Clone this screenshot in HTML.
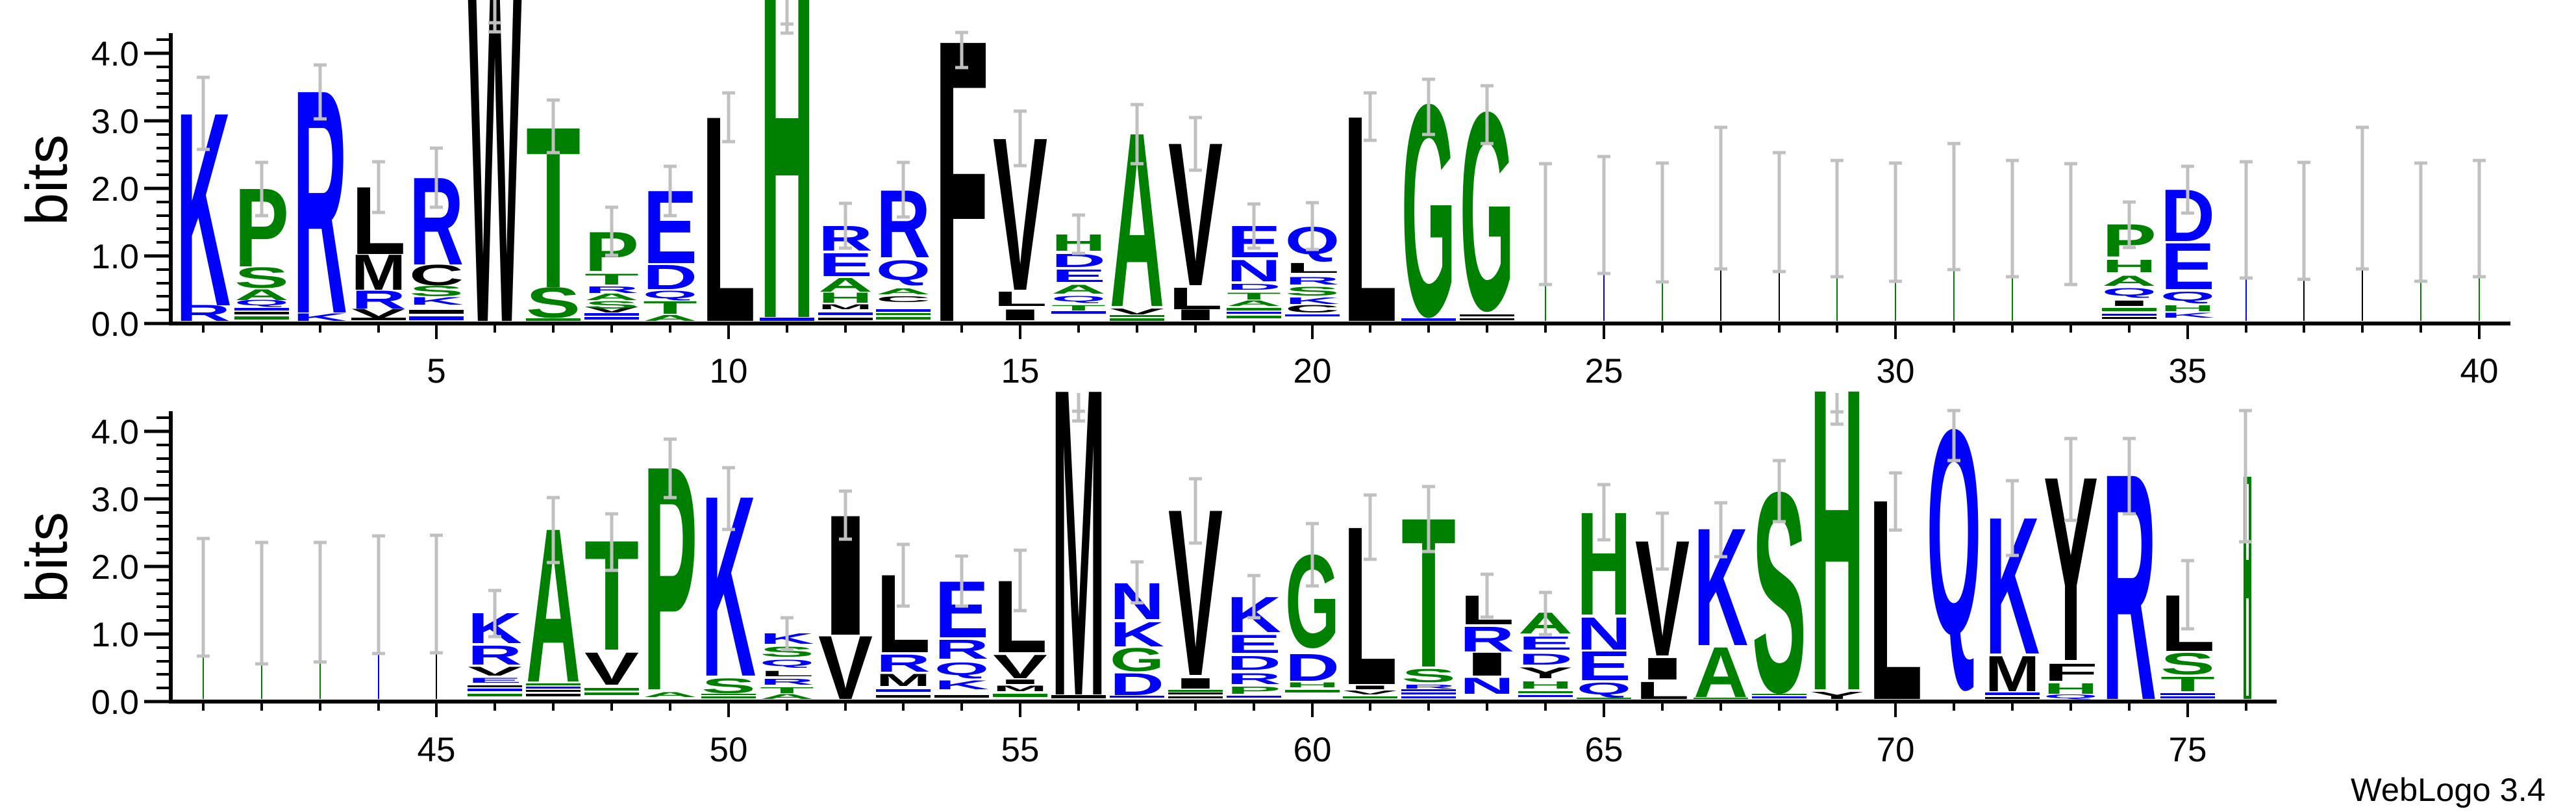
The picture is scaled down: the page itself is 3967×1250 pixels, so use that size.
<!DOCTYPE html>
<html><head><meta charset="utf-8"><style>
html,body{margin:0;padding:0;background:#fff}
svg{display:block}
text{font-family:"Liberation Sans",sans-serif}
.L text{font-weight:bold}
.b{fill:#0000ff}.g{fill:#008000}.k{fill:#000}
</style></head><body>
<svg width="3967" height="1250" viewBox="0 0 3967 1250" xmlns="http://www.w3.org/2000/svg">
<rect width="3967" height="1250" fill="#fff"/>
<g class="L">
<!-- TOP ROW -->
<text class="b" x="271" y="494" font-size="35" textLength="84" lengthAdjust="spacingAndGlyphs">R</text>
<text class="b" x="271" y="470" font-size="427" textLength="84" lengthAdjust="spacingAndGlyphs">K</text>
<rect class="g" x="361" y="487" width="84" height="5"/><rect class="k" x="361" y="480" width="84" height="4"/><rect class="b" x="361" y="474" width="84" height="4"/>
<text class="b" x="361" y="470" font-size="12" textLength="84" lengthAdjust="spacingAndGlyphs">Q</text>
<text class="g" x="361" y="462" font-size="24" textLength="84" lengthAdjust="spacingAndGlyphs">A</text>
<text class="g" x="361" y="443" font-size="45" textLength="84" lengthAdjust="spacingAndGlyphs">S</text>
<text class="g" x="361" y="410" font-size="173" textLength="84" lengthAdjust="spacingAndGlyphs">P</text>
<text class="b" x="451" y="494" font-size="17" textLength="84" lengthAdjust="spacingAndGlyphs">K</text>
<text class="b" x="451" y="481" font-size="493" textLength="84" lengthAdjust="spacingAndGlyphs">R</text>
<rect class="k" x="541" y="489" width="84" height="4"/>
<text class="k" x="541" y="489" font-size="19" textLength="84" lengthAdjust="spacingAndGlyphs">V</text>
<text class="b" x="541" y="475" font-size="40" textLength="84" lengthAdjust="spacingAndGlyphs">R</text>
<text class="k" x="541" y="446" font-size="78" textLength="84" lengthAdjust="spacingAndGlyphs">M</text>
<text class="k" x="541" y="391" font-size="149" textLength="84" lengthAdjust="spacingAndGlyphs">L</text>
<rect class="b" x="630" y="487" width="84" height="6"/><rect class="k" x="630" y="477" width="84" height="6"/>
<text class="b" x="630" y="469" font-size="17" textLength="84" lengthAdjust="spacingAndGlyphs">K</text>
<text class="g" x="630" y="456" font-size="23" textLength="84" lengthAdjust="spacingAndGlyphs">S</text>
<text class="k" x="630" y="439" font-size="45" textLength="84" lengthAdjust="spacingAndGlyphs">C</text>
<text class="b" x="630" y="407" font-size="193" textLength="84" lengthAdjust="spacingAndGlyphs">R</text>
<text class="k" x="720" y="494" font-size="747" textLength="84" lengthAdjust="spacingAndGlyphs">W</text>
<rect class="g" x="810" y="490" width="84" height="4"/>
<text class="g" x="810" y="489" font-size="67" textLength="84" lengthAdjust="spacingAndGlyphs">S</text>
<text class="g" x="810" y="442" font-size="355" textLength="84" lengthAdjust="spacingAndGlyphs">T</text>
<rect class="b" x="900" y="488" width="84" height="4"/><rect class="b" x="900" y="482" width="84" height="4"/>
<text class="k" x="900" y="481" font-size="13" textLength="84" lengthAdjust="spacingAndGlyphs">V</text>
<text class="g" x="900" y="475" font-size="17" textLength="84" lengthAdjust="spacingAndGlyphs">S</text>
<text class="g" x="900" y="462" font-size="15" textLength="84" lengthAdjust="spacingAndGlyphs">A</text>
<text class="b" x="900" y="451" font-size="15" textLength="84" lengthAdjust="spacingAndGlyphs">R</text>
<text class="g" x="900" y="438" font-size="24" textLength="84" lengthAdjust="spacingAndGlyphs">T</text>
<text class="g" x="900" y="417" font-size="86" textLength="84" lengthAdjust="spacingAndGlyphs">P</text>
<text class="g" x="990" y="494" font-size="13" textLength="84" lengthAdjust="spacingAndGlyphs">A</text>
<text class="g" x="990" y="483" font-size="28" textLength="84" lengthAdjust="spacingAndGlyphs">T</text>
<text class="b" x="990" y="459" font-size="17" textLength="84" lengthAdjust="spacingAndGlyphs">Q</text>
<text class="b" x="990" y="445" font-size="54" textLength="84" lengthAdjust="spacingAndGlyphs">D</text>
<text class="b" x="990" y="405" font-size="161" textLength="84" lengthAdjust="spacingAndGlyphs">E</text>
<text class="k" x="1080" y="494" font-size="454" textLength="84" lengthAdjust="spacingAndGlyphs">L</text>
<rect class="b" x="1170" y="489" width="84" height="5"/>
<text class="g" x="1170" y="488" font-size="739" textLength="84" lengthAdjust="spacingAndGlyphs">H</text>
<rect class="k" x="1260" y="489" width="84" height="4"/><rect class="b" x="1260" y="481" width="84" height="4"/>
<text class="k" x="1260" y="476" font-size="11" textLength="84" lengthAdjust="spacingAndGlyphs">M</text>
<text class="g" x="1260" y="466" font-size="22" textLength="84" lengthAdjust="spacingAndGlyphs">H</text>
<text class="g" x="1260" y="449" font-size="31" textLength="84" lengthAdjust="spacingAndGlyphs">A</text>
<text class="b" x="1260" y="425" font-size="51" textLength="84" lengthAdjust="spacingAndGlyphs">E</text>
<text class="b" x="1260" y="386" font-size="55" textLength="84" lengthAdjust="spacingAndGlyphs">R</text>
<rect class="g" x="1349" y="488" width="84" height="4"/><rect class="b" x="1349" y="476" width="84" height="4"/><rect class="g" x="1349" y="482" width="84" height="3"/>
<text class="k" x="1349" y="465" font-size="13" textLength="84" lengthAdjust="spacingAndGlyphs">C</text>
<text class="g" x="1349" y="453" font-size="13" textLength="84" lengthAdjust="spacingAndGlyphs">A</text>
<text class="b" x="1349" y="431" font-size="44" textLength="84" lengthAdjust="spacingAndGlyphs">Q</text>
<text class="b" x="1349" y="396" font-size="149" textLength="84" lengthAdjust="spacingAndGlyphs">R</text>
<text class="k" x="1439" y="494" font-size="622" textLength="84" lengthAdjust="spacingAndGlyphs">F</text>
<text class="k" x="1529" y="493" font-size="24" textLength="84" lengthAdjust="spacingAndGlyphs">I</text>
<text class="k" x="1529" y="471" font-size="32" textLength="84" lengthAdjust="spacingAndGlyphs">L</text>
<text class="k" x="1529" y="446" font-size="337" textLength="84" lengthAdjust="spacingAndGlyphs">V</text>
<rect class="b" x="1619" y="479" width="84" height="4"/>
<text class="g" x="1619" y="478" font-size="12" textLength="84" lengthAdjust="spacingAndGlyphs">T</text>
<text class="b" x="1619" y="464" font-size="12" textLength="84" lengthAdjust="spacingAndGlyphs">Q</text>
<text class="g" x="1619" y="452" font-size="19" textLength="84" lengthAdjust="spacingAndGlyphs">A</text>
<text class="b" x="1619" y="434" font-size="28" textLength="84" lengthAdjust="spacingAndGlyphs">E</text>
<text class="b" x="1619" y="411" font-size="29" textLength="84" lengthAdjust="spacingAndGlyphs">D</text>
<text class="g" x="1619" y="386" font-size="36" textLength="84" lengthAdjust="spacingAndGlyphs">H</text>
<rect class="g" x="1709" y="490" width="84" height="4"/><rect class="g" x="1709" y="485" width="84" height="3"/>
<text class="k" x="1709" y="484" font-size="13" textLength="84" lengthAdjust="spacingAndGlyphs">V</text>
<text class="g" x="1709" y="471" font-size="384" textLength="84" lengthAdjust="spacingAndGlyphs">A</text>
<text class="k" x="1799" y="493" font-size="24" textLength="84" lengthAdjust="spacingAndGlyphs">I</text>
<text class="k" x="1799" y="476" font-size="48" textLength="84" lengthAdjust="spacingAndGlyphs">L</text>
<text class="k" x="1799" y="439" font-size="316" textLength="84" lengthAdjust="spacingAndGlyphs">V</text>
<rect class="g" x="1889" y="486" width="84" height="4"/><rect class="b" x="1889" y="480" width="84" height="3"/><rect class="g" x="1889" y="474" width="84" height="4"/>
<text class="g" x="1889" y="471" font-size="12" textLength="84" lengthAdjust="spacingAndGlyphs">A</text>
<text class="g" x="1889" y="461" font-size="15" textLength="84" lengthAdjust="spacingAndGlyphs">T</text>
<text class="b" x="1889" y="446" font-size="13" textLength="84" lengthAdjust="spacingAndGlyphs">D</text>
<text class="b" x="1889" y="433" font-size="47" textLength="84" lengthAdjust="spacingAndGlyphs">N</text>
<text class="b" x="1889" y="396" font-size="70" textLength="84" lengthAdjust="spacingAndGlyphs">E</text>
<rect class="b" x="1979" y="484" width="84" height="3"/>
<text class="k" x="1979" y="481" font-size="17" textLength="84" lengthAdjust="spacingAndGlyphs">C</text>
<text class="b" x="1979" y="468" font-size="15" textLength="84" lengthAdjust="spacingAndGlyphs">K</text>
<text class="g" x="1979" y="455" font-size="19" textLength="84" lengthAdjust="spacingAndGlyphs">S</text>
<text class="b" x="1979" y="438" font-size="17" textLength="84" lengthAdjust="spacingAndGlyphs">R</text>
<text class="k" x="1979" y="420" font-size="22" textLength="84" lengthAdjust="spacingAndGlyphs">L</text>
<text class="b" x="1979" y="391" font-size="60" textLength="84" lengthAdjust="spacingAndGlyphs">Q</text>
<text class="k" x="2068" y="494" font-size="455" textLength="84" lengthAdjust="spacingAndGlyphs">L</text>
<rect class="b" x="2158" y="490" width="84" height="4"/>
<text class="g" x="2158" y="485" font-size="466" textLength="84" lengthAdjust="spacingAndGlyphs">G</text>
<rect class="k" x="2248" y="490" width="84" height="3"/><rect class="k" x="2248" y="484" width="84" height="3"/>
<text class="g" x="2248" y="476" font-size="436" textLength="84" lengthAdjust="spacingAndGlyphs">G</text>
<rect class="k" x="3237" y="488" width="84" height="3"/><rect class="b" x="3237" y="483" width="84" height="3"/><rect class="g" x="3237" y="474" width="84" height="5"/>
<text class="k" x="3237" y="471" font-size="12" textLength="84" lengthAdjust="spacingAndGlyphs">I</text>
<text class="b" x="3237" y="455" font-size="17" textLength="84" lengthAdjust="spacingAndGlyphs">Q</text>
<text class="g" x="3237" y="440" font-size="22" textLength="84" lengthAdjust="spacingAndGlyphs">A</text>
<text class="g" x="3237" y="419" font-size="28" textLength="84" lengthAdjust="spacingAndGlyphs">H</text>
<text class="g" x="3237" y="395" font-size="71" textLength="84" lengthAdjust="spacingAndGlyphs">P</text>
<text class="b" x="3327" y="489" font-size="11" textLength="84" lengthAdjust="spacingAndGlyphs">K</text>
<text class="g" x="3327" y="479" font-size="13" textLength="84" lengthAdjust="spacingAndGlyphs">H</text>
<text class="b" x="3327" y="463" font-size="20" textLength="84" lengthAdjust="spacingAndGlyphs">Q</text>
<text class="b" x="3327" y="445" font-size="102" textLength="84" lengthAdjust="spacingAndGlyphs">E</text>
<text class="b" x="3327" y="371" font-size="114" textLength="84" lengthAdjust="spacingAndGlyphs">D</text>

<!-- BOTTOM ROW -->
<rect class="g" x="720" y="1068" width="84" height="4"/><rect class="b" x="720" y="1060" width="84" height="4"/><rect class="k" x="720" y="1055" width="84" height="3"/>
<text class="b" x="720" y="1051" font-size="11" textLength="84" lengthAdjust="spacingAndGlyphs">E</text>
<text class="k" x="720" y="1040" font-size="19" textLength="84" lengthAdjust="spacingAndGlyphs">V</text>
<text class="b" x="720" y="1023" font-size="42" textLength="84" lengthAdjust="spacingAndGlyphs">R</text>
<text class="b" x="720" y="990" font-size="67" textLength="84" lengthAdjust="spacingAndGlyphs">K</text>
<rect class="k" x="810" y="1068" width="84" height="4"/><rect class="k" x="810" y="1062" width="84" height="3"/><rect class="b" x="810" y="1057" width="84" height="3"/><rect class="g" x="810" y="1052" width="84" height="3"/>
<text class="g" x="810" y="1049" font-size="339" textLength="84" lengthAdjust="spacingAndGlyphs">A</text>
<rect class="g" x="900" y="1066" width="84" height="4"/><rect class="g" x="900" y="1059" width="84" height="4"/>
<text class="k" x="900" y="1054" font-size="71" textLength="84" lengthAdjust="spacingAndGlyphs">V</text>
<text class="g" x="900" y="1000" font-size="242" textLength="84" lengthAdjust="spacingAndGlyphs">T</text>
<text class="g" x="990" y="1073" font-size="11" textLength="84" lengthAdjust="spacingAndGlyphs">A</text>
<text class="g" x="990" y="1061" font-size="494" textLength="84" lengthAdjust="spacingAndGlyphs">P</text>
<rect class="g" x="1080" y="1072" width="84" height="3"/><rect class="g" x="1080" y="1068" width="84" height="2"/>
<text class="g" x="1080" y="1067" font-size="32" textLength="84" lengthAdjust="spacingAndGlyphs">S</text>
<text class="b" x="1080" y="1040" font-size="398" textLength="84" lengthAdjust="spacingAndGlyphs">K</text>
<text class="g" x="1170" y="1076" font-size="11" textLength="84" lengthAdjust="spacingAndGlyphs">A</text>
<text class="g" x="1170" y="1067" font-size="13" textLength="84" lengthAdjust="spacingAndGlyphs">T</text>
<text class="b" x="1170" y="1054" font-size="13" textLength="84" lengthAdjust="spacingAndGlyphs">R</text>
<text class="k" x="1170" y="1041" font-size="12" textLength="84" lengthAdjust="spacingAndGlyphs">L</text>
<text class="b" x="1170" y="1025" font-size="14" textLength="84" lengthAdjust="spacingAndGlyphs">Q</text>
<text class="g" x="1170" y="1011" font-size="22" textLength="84" lengthAdjust="spacingAndGlyphs">S</text>
<text class="b" x="1170" y="991" font-size="23" textLength="84" lengthAdjust="spacingAndGlyphs">K</text>
<text class="k" x="1260" y="1076" font-size="140" textLength="84" lengthAdjust="spacingAndGlyphs">V</text>
<text class="k" x="1260" y="977" font-size="265" textLength="84" lengthAdjust="spacingAndGlyphs">I</text>
<rect class="k" x="1349" y="1070" width="84" height="4"/><rect class="b" x="1349" y="1061" width="84" height="4"/>
<text class="k" x="1349" y="1056" font-size="27" textLength="84" lengthAdjust="spacingAndGlyphs">M</text>
<text class="b" x="1349" y="1034" font-size="38" textLength="84" lengthAdjust="spacingAndGlyphs">R</text>
<text class="k" x="1349" y="1004" font-size="172" textLength="84" lengthAdjust="spacingAndGlyphs">L</text>
<rect class="k" x="1439" y="1070" width="84" height="4"/>
<text class="b" x="1439" y="1061" font-size="19" textLength="84" lengthAdjust="spacingAndGlyphs">K</text>
<text class="b" x="1439" y="1039" font-size="28" textLength="84" lengthAdjust="spacingAndGlyphs">Q</text>
<text class="b" x="1439" y="1014" font-size="42" textLength="84" lengthAdjust="spacingAndGlyphs">R</text>
<text class="b" x="1439" y="981" font-size="124" textLength="84" lengthAdjust="spacingAndGlyphs">E</text>
<rect class="g" x="1529" y="1068" width="84" height="5"/>
<text class="k" x="1529" y="1064" font-size="12" textLength="84" lengthAdjust="spacingAndGlyphs">M</text>
<text class="k" x="1529" y="1053" font-size="10" textLength="84" lengthAdjust="spacingAndGlyphs">I</text>
<text class="k" x="1529" y="1044" font-size="52" textLength="84" lengthAdjust="spacingAndGlyphs">V</text>
<text class="k" x="1529" y="1004" font-size="159" textLength="84" lengthAdjust="spacingAndGlyphs">L</text>
<rect class="k" x="1619" y="1070" width="84" height="5"/>
<text class="k" x="1619" y="1069" font-size="677" textLength="84" lengthAdjust="spacingAndGlyphs">M</text>
<rect class="b" x="1709" y="1071" width="84" height="3"/>
<text class="b" x="1709" y="1070" font-size="48" textLength="84" lengthAdjust="spacingAndGlyphs">D</text>
<text class="g" x="1709" y="1033" font-size="51" textLength="84" lengthAdjust="spacingAndGlyphs">G</text>
<text class="b" x="1709" y="995" font-size="54" textLength="84" lengthAdjust="spacingAndGlyphs">K</text>
<text class="b" x="1709" y="953" font-size="80" textLength="84" lengthAdjust="spacingAndGlyphs">N</text>
<rect class="k" x="1799" y="1072" width="84" height="3"/><rect class="k" x="1799" y="1066" width="84" height="3"/><rect class="g" x="1799" y="1062" width="84" height="3"/>
<text class="k" x="1799" y="1060" font-size="23" textLength="84" lengthAdjust="spacingAndGlyphs">I</text>
<text class="k" x="1799" y="1039" font-size="367" textLength="84" lengthAdjust="spacingAndGlyphs">V</text>
<rect class="b" x="1889" y="1071" width="84" height="3"/>
<text class="g" x="1889" y="1068" font-size="16" textLength="84" lengthAdjust="spacingAndGlyphs">P</text>
<text class="b" x="1889" y="1053" font-size="24" textLength="84" lengthAdjust="spacingAndGlyphs">R</text>
<text class="b" x="1889" y="1031" font-size="31" textLength="84" lengthAdjust="spacingAndGlyphs">D</text>
<text class="b" x="1889" y="1005" font-size="40" textLength="84" lengthAdjust="spacingAndGlyphs">E</text>
<text class="b" x="1889" y="973" font-size="78" textLength="84" lengthAdjust="spacingAndGlyphs">K</text>
<rect class="g" x="1979" y="1062" width="84" height="4"/>
<text class="g" x="1979" y="1058" font-size="11" textLength="84" lengthAdjust="spacingAndGlyphs">H</text>
<text class="b" x="1979" y="1048" font-size="59" textLength="84" lengthAdjust="spacingAndGlyphs">D</text>
<text class="g" x="1979" y="996" font-size="204" textLength="84" lengthAdjust="spacingAndGlyphs">G</text>
<rect class="g" x="2068" y="1072" width="84" height="3"/>
<text class="k" x="2068" y="1069" font-size="8" textLength="84" lengthAdjust="spacingAndGlyphs">V</text>
<text class="k" x="2068" y="1061" font-size="8" textLength="84" lengthAdjust="spacingAndGlyphs">I</text>
<text class="k" x="2068" y="1053" font-size="349" textLength="84" lengthAdjust="spacingAndGlyphs">L</text>
<rect class="b" x="2158" y="1072" width="84" height="3"/><rect class="b" x="2158" y="1066" width="84" height="3"/><rect class="b" x="2158" y="1061" width="84" height="3"/>
<text class="b" x="2158" y="1060" font-size="8" textLength="84" lengthAdjust="spacingAndGlyphs">R</text>
<text class="g" x="2158" y="1050" font-size="29" textLength="84" lengthAdjust="spacingAndGlyphs">S</text>
<text class="g" x="2158" y="1026" font-size="329" textLength="84" lengthAdjust="spacingAndGlyphs">T</text>
<text class="b" x="2248" y="1068" font-size="35" textLength="84" lengthAdjust="spacingAndGlyphs">N</text>
<text class="k" x="2248" y="1040" font-size="51" textLength="84" lengthAdjust="spacingAndGlyphs">I</text>
<text class="b" x="2248" y="1003" font-size="55" textLength="84" lengthAdjust="spacingAndGlyphs">R</text>
<text class="k" x="2248" y="961" font-size="64" textLength="84" lengthAdjust="spacingAndGlyphs">L</text>
<rect class="b" x="2338" y="1070" width="84" height="3"/><rect class="g" x="2338" y="1064" width="84" height="3"/>
<text class="g" x="2338" y="1060" font-size="16" textLength="84" lengthAdjust="spacingAndGlyphs">H</text>
<text class="k" x="2338" y="1044" font-size="24" textLength="84" lengthAdjust="spacingAndGlyphs">Y</text>
<text class="b" x="2338" y="1023" font-size="24" textLength="84" lengthAdjust="spacingAndGlyphs">D</text>
<text class="b" x="2338" y="1000" font-size="29" textLength="84" lengthAdjust="spacingAndGlyphs">E</text>
<text class="g" x="2338" y="975" font-size="46" textLength="84" lengthAdjust="spacingAndGlyphs">A</text>
<rect class="g" x="2428" y="1074" width="84" height="2"/>
<text class="b" x="2428" y="1069" font-size="26" textLength="84" lengthAdjust="spacingAndGlyphs">Q</text>
<text class="b" x="2428" y="1047" font-size="64" textLength="84" lengthAdjust="spacingAndGlyphs">E</text>
<text class="b" x="2428" y="1000" font-size="71" textLength="84" lengthAdjust="spacingAndGlyphs">N</text>
<text class="g" x="2428" y="946" font-size="227" textLength="84" lengthAdjust="spacingAndGlyphs">H</text>
<text class="k" x="2518" y="1076" font-size="38" textLength="84" lengthAdjust="spacingAndGlyphs">L</text>
<text class="k" x="2518" y="1046" font-size="48" textLength="84" lengthAdjust="spacingAndGlyphs">I</text>
<text class="k" x="2518" y="1009" font-size="255" textLength="84" lengthAdjust="spacingAndGlyphs">V</text>
<rect class="g" x="2608" y="1074" width="84" height="2"/>
<text class="g" x="2608" y="1073" font-size="110" textLength="84" lengthAdjust="spacingAndGlyphs">A</text>
<text class="b" x="2608" y="993" font-size="259" textLength="84" lengthAdjust="spacingAndGlyphs">K</text>
<rect class="b" x="2698" y="1072" width="84" height="3"/><rect class="g" x="2698" y="1068" width="84" height="2"/>
<text class="g" x="2698" y="1064" font-size="440" textLength="84" lengthAdjust="spacingAndGlyphs">S</text>
<text class="k" x="2787" y="1076" font-size="16" textLength="84" lengthAdjust="spacingAndGlyphs">Y</text>
<text class="g" x="2787" y="1061" font-size="666" textLength="84" lengthAdjust="spacingAndGlyphs">H</text>
<text class="k" x="2877" y="1076" font-size="442" textLength="84" lengthAdjust="spacingAndGlyphs">L</text>
<text class="b" x="2967" y="975" font-size="451" textLength="84" lengthAdjust="spacingAndGlyphs">Q</text>
<rect class="k" x="3057" y="1073" width="84" height="3"/><rect class="b" x="3057" y="1066" width="84" height="4"/>
<text class="k" x="3057" y="1064" font-size="78" textLength="84" lengthAdjust="spacingAndGlyphs">M</text>
<text class="b" x="3057" y="1006" font-size="302" textLength="84" lengthAdjust="spacingAndGlyphs">K</text>
<text class="b" x="3147" y="1075" font-size="8" textLength="84" lengthAdjust="spacingAndGlyphs">Q</text>
<text class="g" x="3147" y="1068" font-size="23" textLength="84" lengthAdjust="spacingAndGlyphs">H</text>
<text class="k" x="3147" y="1048" font-size="38" textLength="84" lengthAdjust="spacingAndGlyphs">F</text>
<text class="k" x="3147" y="1016" font-size="406" textLength="84" lengthAdjust="spacingAndGlyphs">Y</text>
<text class="b" x="3237" y="1076" font-size="499" textLength="84" lengthAdjust="spacingAndGlyphs">R</text>
<rect class="b" x="3327" y="1072" width="84" height="3"/><rect class="b" x="3327" y="1067" width="84" height="3"/>
<text class="g" x="3327" y="1064" font-size="32" textLength="84" lengthAdjust="spacingAndGlyphs">T</text>
<text class="g" x="3327" y="1038" font-size="47" textLength="84" lengthAdjust="spacingAndGlyphs">S</text>
<text class="k" x="3327" y="1002" font-size="124" textLength="84" lengthAdjust="spacingAndGlyphs">L</text>
</g>
<!-- pos 76 narrow -->
<rect class="g" x="3455" y="734" width="12" height="342"/>
<rect fill="#fff" x="3459" y="745" width="4" height="117"/>
<rect fill="#fff" x="3459" y="921" width="4" height="150"/>
<!-- thin lines for low-info columns -->
<g stroke-width="2">
<path stroke="#008000" d="M2380 346V494M2560 344V494M2829 336V494M2919 341V494M3009 318V494M3099 336V494M3728 341V494M3818 336V494M313 919V1076M403 930V1076M493 927V1076"/>
<path stroke="#0000ff" d="M2470 333V494M3459 338V494M583 915V1076"/>
<path stroke="#000" d="M2650 305V494M2740 326V494M3548 340V494M3638 305V494M672 915V1076"/>
</g>
<!-- error bars -->
<path fill="none" stroke="#c0c0c0" stroke-width="5" d="
M303 119h20M313 119V230M303 230h20
M393 250h20M403 250V332M393 332h20
M483 100h20M493 100V183M483 183h20
M573 249h20M583 249V327M573 327h20
M662 228h20M672 228V319M662 319h20
M752 35h20M762 0V49M752 49h20
M842 154h20M852 154V235M842 235h20
M932 319h20M942 319V393M932 393h20
M1022 256h20M1032 256V332M1022 332h20
M1112 143h20M1122 143V218M1112 218h20
M1202 37h20M1212 0V51M1202 51h20
M1292 313h20M1302 313V382M1292 382h20
M1381 250h20M1391 250V334M1381 334h20
M1471 50h20M1481 50V104M1471 104h20
M1561 171h20M1571 171V255M1561 255h20
M1651 331h20M1661 331V390M1651 390h20
M1741 161h20M1751 161V252M1741 252h20
M1831 181h20M1841 181V262M1831 262h20
M1921 314h20M1931 314V382M1921 382h20
M2011 312h20M2021 312V384M2011 384h20
M2100 143h20M2110 143V216M2100 216h20
M2190 122h20M2200 122V207M2190 207h20
M2280 132h20M2290 132V221M2280 221h20
M2370 252h20M2380 252V438M2370 438h20
M2460 241h20M2470 241V421M2460 421h20
M2550 251h20M2560 251V434M2550 434h20
M2640 196h20M2650 196V414M2640 414h20
M2730 235h20M2740 235V418M2730 418h20
M2819 247h20M2829 247V426M2819 426h20
M2909 251h20M2919 251V433M2909 433h20
M2999 221h20M3009 221V415M2999 415h20
M3089 247h20M3099 247V426M3089 426h20
M3179 252h20M3189 252V438M3179 438h20
M3269 311h20M3279 311V381M3269 381h20
M3359 256h20M3369 256V328M3359 328h20
M3449 249h20M3459 249V428M3449 428h20
M3538 250h20M3548 250V430M3538 430h20
M3628 196h20M3638 196V414M3628 414h20
M3718 251h20M3728 251V433M3718 433h20
M3808 247h20M3818 247V426M3808 426h20
M303 829h20M313 829V1010M303 1010h20
M393 835h20M403 835V1022M393 1022h20
M483 835h20M493 835V1019M483 1019h20
M573 825h20M583 825V1006M573 1006h20
M662 824h20M672 824V1005M662 1005h20
M752 909h20M762 909V980M752 980h20
M842 766h20M852 766V866M842 866h20
M932 791h20M942 791V878M932 878h20
M1022 676h20M1032 676V766M1022 766h20
M1112 720h20M1122 720V815M1112 815h20
M1202 951h20M1212 951V1000M1202 1000h20
M1292 756h20M1302 756V830M1292 830h20
M1381 838h20M1391 838V933M1381 933h20
M1471 856h20M1481 856V933M1471 933h20
M1561 847h20M1571 847V940M1561 940h20
M1651 633h20M1661 605V648M1651 648h20
M1741 865h20M1751 865V928M1741 928h20
M1831 737h20M1841 737V836M1831 836h20
M1921 886h20M1931 886V951M1921 951h20
M2011 806h20M2021 806V902M2011 902h20
M2100 762h20M2110 762V861M2100 861h20
M2190 749h20M2200 749V849M2190 849h20
M2280 884h20M2290 884V950M2280 950h20
M2370 912h20M2380 912V977M2370 977h20
M2460 746h20M2470 746V831M2460 831h20
M2550 790h20M2560 790V876M2550 876h20
M2640 774h20M2650 774V857M2640 857h20
M2730 709h20M2740 709V803M2730 803h20
M2819 634h20M2829 605V653M2819 653h20
M2909 728h20M2919 728V816M2909 816h20
M2999 632h20M3009 632V709M2999 709h20
M3089 740h20M3099 740V855M3089 855h20
M3179 675h20M3189 675V801M3179 801h20
M3269 675h20M3279 675V791M3269 791h20
M3359 863h20M3369 863V968M3359 968h20
M3448 632h20M3458 632V834M3448 834h20"/>
<!-- axes -->
<g stroke="#000" fill="none">
<path stroke-width="6" d="M263 51V501M260 498H3866M263 633V1083M260 1080H3506"/>
<path stroke-width="5" d="M222 498H263M222 394H263M222 290H263M222 186H263M222 82H263M222 1080H263M222 976H263M222 872H263M222 768H263M222 664H263"/>
<path stroke-width="4" d="M241 477H263M241 456H263M241 436H263M241 415H263M241 373H263M241 352H263M241 332H263M241 311H263M241 269H263M241 248H263M241 228H263M241 207H263M241 165H263M241 144H263M241 124H263M241 103H263M241 61H263
M241 1059H263M241 1038H263M241 1018H263M241 997H263M241 955H263M241 934H263M241 914H263M241 893H263M241 851H263M241 830H263M241 810H263M241 789H263M241 747H263M241 726H263M241 706H263M241 685H263M241 643H263"/>
<path stroke-width="4" d="M313 498v14M403 498v14M493 498v14M583 498v14M672 498v24M762 498v14M852 498v14M942 498v14M1032 498v14M1122 498v24M1212 498v14M1302 498v14M1391 498v14M1481 498v14M1571 498v24M1661 498v14M1751 498v14M1841 498v14M1931 498v14M2021 498v24M2110 498v14M2200 498v14M2290 498v14M2380 498v14M2470 498v24M2560 498v14M2650 498v14M2740 498v14M2829 498v14M2919 498v24M3009 498v14M3099 498v14M3189 498v14M3279 498v14M3369 498v24M3459 498v14M3548 498v14M3638 498v14M3728 498v14M3818 498v24
M313 1080v14M403 1080v14M493 1080v14M583 1080v14M672 1080v24M762 1080v14M852 1080v14M942 1080v14M1032 1080v14M1122 1080v24M1212 1080v14M1302 1080v14M1391 1080v14M1481 1080v14M1571 1080v24M1661 1080v14M1751 1080v14M1841 1080v14M1931 1080v14M2021 1080v24M2110 1080v14M2200 1080v14M2290 1080v14M2380 1080v14M2470 1080v24M2560 1080v14M2650 1080v14M2740 1080v14M2829 1080v14M2919 1080v24M3009 1080v14M3099 1080v14M3189 1080v14M3279 1080v14M3369 1080v24M3459 1080v14"/>
</g>
<g font-size="53" text-anchor="end" fill="#000">
<text x="214" y="517">0.0</text><text x="214" y="413">1.0</text><text x="214" y="309">2.0</text><text x="214" y="205">3.0</text><text x="214" y="101">4.0</text>
<text x="214" y="1099">0.0</text><text x="214" y="995">1.0</text><text x="214" y="891">2.0</text><text x="214" y="787">3.0</text><text x="214" y="683">4.0</text>
</g>
<g font-size="53" text-anchor="middle" fill="#000">
<text x="672" y="589">5</text><text x="1122" y="589">10</text><text x="1571" y="589">15</text><text x="2021" y="589">20</text><text x="2470" y="589">25</text><text x="2919" y="589">30</text><text x="3369" y="589">35</text><text x="3818" y="589">40</text>
<text x="672" y="1172">45</text><text x="1122" y="1172">50</text><text x="1571" y="1172">55</text><text x="2021" y="1172">60</text><text x="2470" y="1172">65</text><text x="2919" y="1172">70</text><text x="3369" y="1172">75</text>
</g>
<text font-size="90" text-anchor="middle" transform="translate(103,277) rotate(-90)">bits</text>
<text font-size="90" text-anchor="middle" transform="translate(103,858) rotate(-90)">bits</text>
<text x="3620" y="1233" font-size="50" textLength="300" lengthAdjust="spacingAndGlyphs">WebLogo 3.4</text>
</svg>
</body></html>
